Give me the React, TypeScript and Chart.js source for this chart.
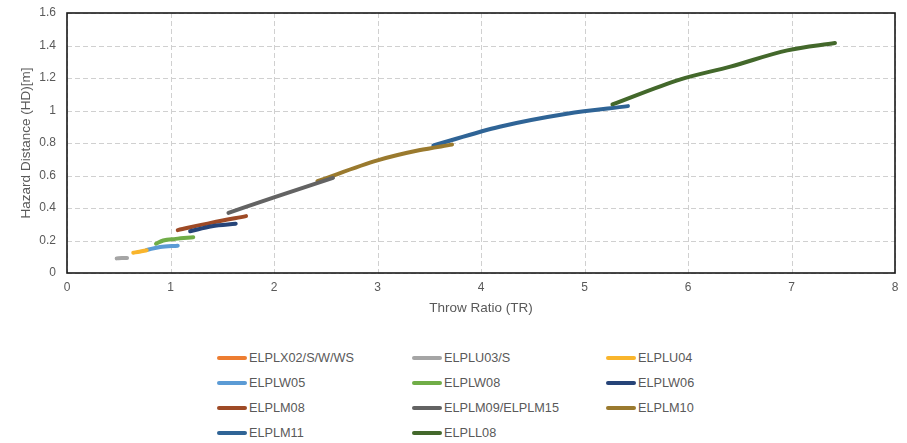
import React, { useEffect, useRef } from "react";
import { Chart, registerables } from "chart.js";

Chart.register(...registerables);

const seriesNames = [
  "ELPLX02/S/W/WS",
  "ELPLU03/S",
  "ELPLU04",
  "ELPLW05",
  "ELPLW08",
  "ELPLW06",
  "ELPLM08",
  "ELPLM09/ELPLM15",
  "ELPLM10",
  "ELPLM11",
  "ELPLL08",
];
const seriesColors = [
  "#ED7D31",
  "#A5A5A5",
  "#F9B52C",
  "#5B9BD5",
  "#70AD47",
  "#264478",
  "#9E4A26",
  "#636363",
  "#9A7A2E",
  "#2F6496",
  "#43682B",
];

const elplx02X: number[] = [];
const elplx02Y: number[] = [];
const elplu03X = [0.48, 0.53, 0.58];
const elplu03Y = [0.09, 0.092, 0.092];
const elplu04X = [0.64, 0.7, 0.77];
const elplu04Y = [0.125, 0.131, 0.14];
const elplw05X = [0.77, 0.9, 1.07];
const elplw05Y = [0.142, 0.16, 0.168];
const elplw08X = [0.86, 0.93, 1.05, 1.22];
const elplw08Y = [0.18, 0.2, 0.21, 0.22];
const elplw06X = [1.19, 1.4, 1.63];
const elplw06Y = [0.257, 0.288, 0.303];
const elplm08X = [1.07, 1.4, 1.73];
const elplm08Y = [0.264, 0.31, 0.35];
const elplm09X = [1.56, 2.0, 2.57];
const elplm09Y = [0.37, 0.465, 0.585];
const elplm10X = [2.42, 3.0, 3.4, 3.72];
const elplm10Y = [0.565, 0.693, 0.755, 0.79];
const elplm11X = [3.54, 4.18, 4.83, 5.42];
const elplm11Y = [0.785, 0.9, 0.98, 1.027];
const elpll08X = [5.27, 5.92, 6.41, 6.96, 7.42];
const elpll08Y = [1.037, 1.19, 1.27, 1.37, 1.415];

const seriesX = [elplx02X, elplu03X, elplu04X, elplw05X, elplw08X, elplw06X, elplm08X, elplm09X, elplm10X, elplm11X, elpll08X];
const seriesY = [elplx02Y, elplu03Y, elplu04Y, elplw05Y, elplw08Y, elplw06Y, elplm08Y, elplm09Y, elplm10Y, elplm11Y, elpll08Y];

const xTicks = [0, 1, 2, 3, 4, 5, 6, 7, 8];
const yTicks = [0, 0.2, 0.4, 0.6, 0.8, 1, 1.2, 1.4, 1.6];

const FONT = "'Liberation Sans', Arial, sans-serif";
const CLEAR = "rgba(0,0,0,0)";

const dashedGrid = {
  id: "dashedGrid",
  beforeDatasetsDraw(chart: any) {
    const { ctx, chartArea, scales } = chart;
    ctx.save();
    ctx.strokeStyle = "#d0d0d0";
    ctx.lineWidth = 1;
    ctx.setLineDash([5, 3]);
    for (const v of xTicks) {
      const px = Math.round(scales.x.getPixelForValue(v)) + 0.5;
      ctx.beginPath();
      ctx.moveTo(px, chartArea.top);
      ctx.lineTo(px, chartArea.bottom + 3);
      ctx.stroke();
    }
    for (const v of yTicks) {
      const py = Math.round(scales.y.getPixelForValue(v)) + 0.5;
      ctx.beginPath();
      ctx.moveTo(chartArea.left, py);
      ctx.lineTo(chartArea.right, py);
      ctx.stroke();
    }
    ctx.restore();
  },
  afterDatasetsDraw(chart: any) {
    const { ctx, chartArea } = chart;
    ctx.save();
    ctx.strokeStyle = "#1a1a1a";
    ctx.lineWidth = 1.6;
    ctx.strokeRect(chartArea.left, chartArea.top, chartArea.right - chartArea.left, chartArea.bottom - chartArea.top);
    ctx.restore();
  },
};

export default function App() {
  const ref = useRef<HTMLCanvasElement>(null);
  useEffect(() => {
    if (!ref.current) return;
    const datasets = seriesNames.map((name, i) => ({
      label: name,
      data: seriesX[i].map((x, j) => ({ x, y: seriesY[i][j] })),
      borderColor: seriesColors[i],
      backgroundColor: seriesColors[i],
      borderWidth: 4,
      borderCapStyle: "round" as const,
      pointRadius: 0,
      tension: 0.4,
      cubicInterpolationMode: "monotone" as const,
      fill: false,
    }));
    const chart = new Chart(ref.current, {
      type: "line",
      data: { datasets },
      plugins: [dashedGrid],
      options: {
        animation: false,
        responsive: false,
        layout: { padding: { left: 20, right: 12, top: 13, bottom: 0 } },
        plugins: { legend: { display: false }, tooltip: { enabled: false } },
        scales: {
          x: {
            type: "linear",
            min: 0,
            max: 8,
            afterBuildTicks: (s: any) => { s.ticks = xTicks.map((v) => ({ value: v })); },
            afterFit: (s: any) => { s.height = 43; },
            grid: { display: true, color: CLEAR, drawOnChartArea: false, drawTicks: true, tickLength: 6 },
            border: { display: false },
            ticks: { color: "#595959", font: { family: FONT, size: 12, lineHeight: 1 }, padding: 3, maxRotation: 0 },
            title: { display: true, text: "Throw Ratio (TR)", color: "#595959", font: { family: FONT, size: 13.5, lineHeight: 1 }, padding: { top: 0, bottom: 1 } },
          },
          y: {
            type: "linear",
            min: 0,
            max: 1.6,
            afterBuildTicks: (s: any) => { s.ticks = yTicks.map((v) => ({ value: v })); },
            afterFit: (s: any) => { s.width = 47; },
            grid: { display: true, color: CLEAR, drawOnChartArea: false, drawTicks: true, tickLength: 8 },
            border: { display: false },
            ticks: {
              color: "#595959",
              font: { family: FONT, size: 12 },
              padding: 3,
              callback: (v: any) => String(Number(Number(v).toFixed(1))),
            },
            title: { display: true, text: "Hazard Distance (HD)[m]", color: "#595959", font: { family: FONT, size: 13.5, lineHeight: 1 }, padding: { top: 0, bottom: 0 } },
          },
        },
      },
    });
    return () => chart.destroy();
  }, []);

  const cols = [217, 412, 606];
  const rows = [358, 383, 408, 433];

  return (
    <div style={{ position: "fixed", left: 0, top: 0, width: 907, height: 443, background: "#fff" }}>
      <canvas ref={ref} width={907} height={316} style={{ position: "absolute", left: 0, top: 0, width: 907, height: 316 }} />
      {seriesNames.map((name, i) => (
        <div
          key={name}
          style={{
            position: "absolute",
            left: cols[i % 3],
            top: rows[Math.floor(i / 3)] - 9,
            height: 18,
            display: "flex",
            alignItems: "center",
            fontFamily: FONT,
            fontSize: 12.7,
            color: "#595959",
            whiteSpace: "nowrap",
          }}
        >
          <span style={{ display: "inline-block", width: 30, height: 4, borderRadius: 2, background: seriesColors[i], marginRight: 2 }} />
          <span>{name}</span>
        </div>
      ))}
    </div>
  );
}
